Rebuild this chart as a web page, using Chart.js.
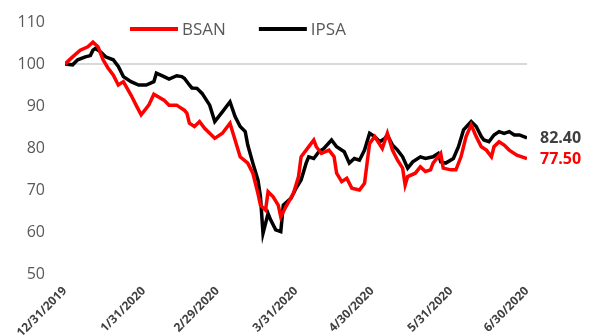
<!DOCTYPE html>
<html>
<head>
<meta charset="utf-8">
<script src="https://cdn.jsdelivr.net/npm/chart.js@4.4.1/dist/chart.umd.min.js"></script>
<style>
  html, body { margin: 0; padding: 0; background: #fff; }
  #wrap { width: 591px; height: 335px; }
</style>
</head>
<body>
<div id="wrap"><canvas id="chart" width="591" height="335"></canvas></div>
<script>
// days since 12/31/2019
const tickDays = [0, 31, 60, 91, 121, 152, 182];
const tickLabels = ['12/31/2019', '1/31/2020', '2/29/2020', '3/31/2020', '4/30/2020', '5/31/2020', '6/30/2020'];

const ipsaDays = [0, 3, 5, 8, 10, 11, 12, 14, 16, 19, 21, 23, 26, 29, 32, 35, 36, 39, 41, 44, 46, 47, 49, 50, 52, 54, 57, 59, 62, 65, 67, 69, 71, 72, 74, 76, 77, 78, 80, 81, 83, 85, 86, 89, 91, 93, 95, 96, 98, 100, 102, 105, 107, 110, 112, 114, 116, 118, 120, 122, 124, 126, 127, 129, 131, 133, 135, 137, 140, 142, 145, 147, 148, 150, 153, 155, 157, 160, 162, 164, 165, 167, 169, 171, 173, 175, 177, 179, 182];
const ipsaValues = [100, 99.8, 101, 101.7, 102, 103.3, 103.7, 102.9, 101.7, 101, 99.4, 97, 95.8, 95, 95, 95.8, 97.8, 97, 96.4, 97.2, 97, 96.6, 95, 94.3, 94.2, 93, 90.2, 86.3, 88.6, 91, 87.5, 85.1, 83.9, 80.7, 76.4, 72.4, 68.4, 59.7, 64.4, 62.9, 60.5, 60.1, 66.4, 68, 70.4, 72.4, 76.4, 77.9, 77.5, 79.1, 79.9, 81.9, 80.3, 79.1, 76.4, 77.5, 77.1, 79.5, 83.5, 82.7, 81.5, 82.3, 83.1, 80.7, 79.5, 77.9, 75.2, 76.7, 77.9, 77.5, 77.9, 78.7, 76.7, 76.4, 77.5, 80.3, 84.3, 86.3, 85.1, 82.7, 81.9, 81.5, 83.1, 83.9, 83.5, 83.9, 83.1, 83.1, 82.4];

const bsanDays = [0, 3, 6, 9, 11, 13, 15, 17, 19, 21, 23, 26, 28, 30, 33, 35, 39, 41, 44, 45, 47, 48, 49, 51, 53, 55, 57, 59, 62, 65, 67, 69, 72, 74, 76, 77, 79, 80, 82, 84, 85, 87, 90, 92, 93, 95, 97, 98, 99, 101, 104, 106, 107, 109, 111, 113, 116, 118, 119, 120, 122, 125, 127, 129, 131, 133, 134, 135, 138, 140, 142, 144, 145, 148, 149, 152, 154, 156, 158, 160, 162, 164, 166, 168, 169, 171, 173, 175, 178, 180, 182];
const bsanValues = [100, 101.7, 103.3, 104.1, 105.2, 104.1, 101, 99, 97.4, 95, 95.8, 92.6, 90.2, 87.9, 90.2, 92.8, 91.4, 90.2, 90.2, 89.8, 89, 88.3, 85.9, 85.1, 86.3, 84.7, 83.5, 82.3, 83.5, 85.9, 81.9, 77.9, 76.4, 74, 69.2, 66.4, 65.2, 69.6, 68.4, 66.4, 63.6, 66, 69.2, 73.2, 77.9, 79.5, 81.1, 81.9, 80.3, 78.7, 79.5, 77.9, 74, 72, 72.8, 70.4, 70, 71.6, 76.4, 81.1, 82.7, 79.9, 83.5, 79.5, 77.1, 75.2, 71.2, 73.2, 74, 75.5, 74.4, 74.8, 76.4, 78.7, 75.2, 74.8, 74.8, 77.9, 82.7, 85.5, 82.7, 80.3, 79.5, 77.9, 80.3, 81.5, 80.7, 79.5, 78.3, 77.9, 77.5];

const RED = '#ff0000';
const BLACK = '#000000';

function toPoints(days, values) {
    return days.map((d, i) => ({ x: d, y: values[i] }));
}

// legend + end-of-line value labels
const extras = {
    id: 'extras',
    afterDatasetsDraw(chart) {
        const ctx = chart.ctx;
        const area = chart.chartArea;
        ctx.save();

        // legend, placed inside the plot like the original
        let x = area.left + 65;
        const y = 29;
        ctx.font = '17px "Open Sans"';
        ctx.textBaseline = 'middle';
        chart.data.datasets.forEach(ds => {
            ctx.strokeStyle = ds.borderColor;
            ctx.lineWidth = 4;
            ctx.beginPath();
            ctx.moveTo(x, y);
            ctx.lineTo(x + 48, y);
            ctx.stroke();
            ctx.fillStyle = '#595959';
            ctx.textAlign = 'left';
            ctx.fillText(ds.label, x + 52, y + 1);
            x += 52 + ctx.measureText(ds.label).width + 33;
        });

        // last values
        ctx.font = 'bold 16px "Open Sans"';
        chart.data.datasets.forEach((ds, i) => {
            const meta = chart.getDatasetMeta(i);
            const last = meta.data[meta.data.length - 1];
            const val = ds.data[ds.data.length - 1].y;
            ctx.fillStyle = i === 0 ? RED : '#404040';
            ctx.fillText(val.toFixed(2), last.x + 13, last.y + 1);
        });
        ctx.restore();
    }
};

new Chart(document.getElementById('chart'), {
    type: 'line',
    data: {
        datasets: [{
            label: 'BSAN',
            data: toPoints(bsanDays, bsanValues),
            borderColor: RED,
            backgroundColor: RED,
            borderWidth: 3.5,
            pointRadius: 0,
            tension: 0
        }, {
            label: 'IPSA',
            data: toPoints(ipsaDays, ipsaValues),
            borderColor: BLACK,
            backgroundColor: BLACK,
            borderWidth: 3.5,
            pointRadius: 0,
            tension: 0
        }]
    },
    options: {
        responsive: false,
        animation: false,
        layout: { padding: { top: 22, right: 64, left: 0, bottom: 0 } },
        plugins: {
            legend: { display: false },
            tooltip: { enabled: false }
        },
        scales: {
            x: {
                type: 'linear',
                min: 0,
                max: 182,
                afterBuildTicks: scale => {
                    scale.ticks = tickDays.map(v => ({ value: v }));
                },
                afterFit: scale => {
                    scale.height = 61;
                    scale.paddingLeft = 0;
                    scale.paddingRight = 0;
                },
                grid: { display: false, drawTicks: false },
                border: { display: false },
                ticks: {
                    autoSkip: false,
                    maxRotation: 45,
                    minRotation: 45,
                    padding: 10,
                    color: '#404040',
                    font: { family: 'Open Sans', size: 12, weight: 'bold' },
                    callback: value => tickLabels[tickDays.indexOf(value)]
                }
            },
            y: {
                min: 50,
                max: 110,
                afterFit: scale => {
                    scale.width = 65;
                    scale.paddingTop = 0;
                    scale.paddingBottom = 0;
                },
                ticks: {
                    stepSize: 10,
                    padding: 20,
                    color: '#595959',
                    font: { family: 'Open Sans', size: 16 }
                },
                grid: {
                    drawTicks: false,
                    lineWidth: 2,
                    color: ctx => ctx.tick && ctx.tick.value === 100 ? '#d9d9d9' : 'rgba(0,0,0,0)'
                },
                border: { display: false }
            }
        }
    },
    plugins: [extras]
});
</script>
</body>
</html>
